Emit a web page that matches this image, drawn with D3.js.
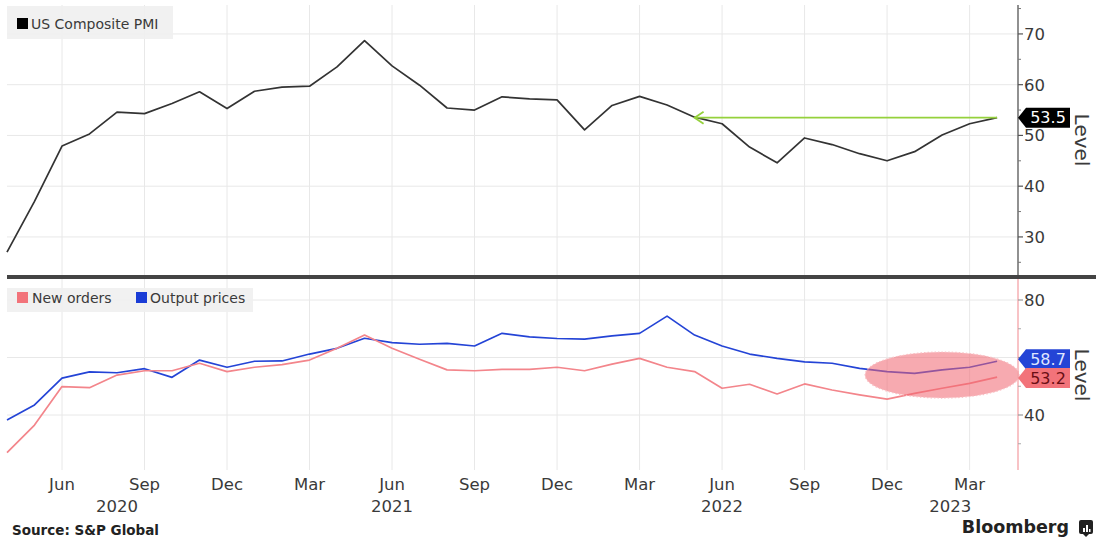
<!DOCTYPE html>
<html>
<head>
<meta charset="utf-8">
<script src="https://cdn.jsdelivr.net/npm/d3@7/dist/d3.min.js"></script>
<style>
  html, body { margin: 0; padding: 0; background: #fff; }
  svg { display: block; font-family: "DejaVu Sans", sans-serif; }
</style>
</head>
<body>
<svg id="chart" width="1096" height="543"></svg>
<script>
// ---------- data ----------
const months = ["2020-04","2020-05","2020-06","2020-07","2020-08","2020-09","2020-10","2020-11","2020-12",
  "2021-01","2021-02","2021-03","2021-04","2021-05","2021-06","2021-07","2021-08","2021-09","2021-10","2021-11","2021-12",
  "2022-01","2022-02","2022-03","2022-04","2022-05","2022-06","2022-07","2022-08","2022-09","2022-10","2022-11","2022-12",
  "2023-01","2023-02","2023-03","2023-04"];
const compositePMI = [27.0,37.0,47.9,50.3,54.6,54.3,56.3,58.6,55.3,58.7,59.5,59.7,63.5,68.7,63.7,59.9,55.4,55.0,57.6,57.2,57.0,
  51.1,55.9,57.7,56.0,53.6,52.3,47.7,44.6,49.5,48.2,46.4,45.0,46.8,50.1,52.3,53.5];
const newOrders = [26.9,36.5,49.9,49.5,53.9,55.4,55.4,58.0,55.1,56.6,57.5,59.1,63.2,67.8,63.2,59.4,55.7,55.4,55.9,55.9,56.6,
  55.4,57.7,59.7,56.6,55.1,49.3,50.7,47.3,50.8,48.7,47.0,45.5,47.5,49.3,51.0,53.2];
const outputPrices = [38.3,43.5,52.8,55.0,54.7,56.1,53.1,59.1,56.6,58.7,58.8,61.2,63.2,66.7,65.2,64.6,64.9,64.0,68.4,67.2,66.6,
  66.4,67.5,68.4,74.4,67.8,64.0,61.2,59.7,58.5,58.0,56.2,55.1,54.5,55.7,56.6,58.7];
const monthTicks = ["2020-06","2020-09","2020-12","2021-03","2021-06","2021-09","2021-12","2022-03","2022-06","2022-09","2022-12","2023-03"];
const monthTickLabels = ["Jun","Sep","Dec","Mar","Jun","Sep","Dec","Mar","Jun","Sep","Dec","Mar"];
const yearLabels = ["2020","2021","2022","2023"];
const yearLabelAt = [4, 14, 26, 34.3];           // month index at which year label is centred
const topTicks = [30, 40, 50, 60, 70];
const topMinor = [25, 35, 45, 55, 65, 75];
const botGrid = [40, 60, 80];
const botTickLabels = [40, 80];
const botMinor = [30, 50, 70];
const arrowFromIndex = 36, arrowToIndex = 25;    // green annotation arrow (Apr 2023 -> May 2022)

// ---------- layout ----------
const svg = d3.select("#chart");
const L = 7, R = 1018;
const topY0 = 5, topY1 = 275, botY0 = 279, botY1 = 470;
const idx = months.map((m, i) => i);
const x = d3.scaleLinear().domain([0, 36.76]).range([L, R]);
const yTop = d3.scaleLinear().domain([22.3, 75.7]).range([276, 5]);
const yBot = d3.scaleLinear().domain([40, 80]).range([415, 300]);
const mIndex = m => months.indexOf(m);

const gridColor = "#e8e8e8";
const textColor = "#3a3a3a";
const red = "#f3858b", blue = "#2444d6";

// background
svg.append("rect").attr("width", 1096).attr("height", 543).attr("fill", "#fff");

// vertical grid
const vg = svg.append("g");
monthTicks.forEach(m => {
  const xx = x(mIndex(m));
  vg.append("line").attr("x1", xx).attr("x2", xx).attr("y1", topY0).attr("y2", topY1)
    .attr("stroke", gridColor).attr("stroke-width", 1);
  vg.append("line").attr("x1", xx).attr("x2", xx).attr("y1", botY0).attr("y2", botY1)
    .attr("stroke", gridColor).attr("stroke-width", 1);
});
// horizontal grid
topTicks.forEach(v => {
  svg.append("line").attr("x1", L).attr("x2", R).attr("y1", yTop(v)).attr("y2", yTop(v))
    .attr("stroke", gridColor).attr("stroke-width", 1);
});
botGrid.forEach(v => {
  svg.append("line").attr("x1", L).attr("x2", R).attr("y1", yBot(v)).attr("y2", yBot(v))
    .attr("stroke", gridColor).attr("stroke-width", 1);
});

// ---------- top panel ----------
const lineTop = d3.line().x((d, i) => x(i)).y(d => yTop(d));
svg.append("path").datum(compositePMI).attr("d", lineTop)
  .attr("fill", "none").attr("stroke", "#333").attr("stroke-width", 1.7).attr("stroke-linejoin", "round");

// green arrow annotation
const gy = yTop(compositePMI[arrowFromIndex]);
const gx1 = x(arrowFromIndex), gx2 = x(arrowToIndex);
const green = "#95d13c";
svg.append("line").attr("x1", gx1).attr("x2", gx2).attr("y1", gy).attr("y2", gy)
  .attr("stroke", green).attr("stroke-width", 1.8);
svg.append("path").attr("d", `M${gx2 + 9},${gy - 6} L${gx2},${gy} L${gx2 + 9},${gy + 6}`)
  .attr("fill", "none").attr("stroke", green).attr("stroke-width", 1.8);

// top axis
svg.append("line").attr("x1", R).attr("x2", R).attr("y1", topY0).attr("y2", topY1)
  .attr("stroke", "#555").attr("stroke-width", 1.3);
topTicks.forEach(v => {
  svg.append("line").attr("x1", R).attr("x2", R + 5).attr("y1", yTop(v)).attr("y2", yTop(v))
    .attr("stroke", "#555").attr("stroke-width", 1.2);
  svg.append("text").attr("x", R + 6).attr("y", yTop(v)).attr("dy", "0.36em")
    .attr("font-size", 16.5).attr("fill", textColor).text(v);
});
topMinor.forEach(v => {
  svg.append("line").attr("x1", R).attr("x2", R + 3).attr("y1", yTop(v)).attr("y2", yTop(v))
    .attr("stroke", "#777").attr("stroke-width", 1);
});

// last value label (black)
function valueTag(cy, fill, txtFill, label) {
  const g = svg.append("g");
  g.append("path").attr("d", `M${R},${cy} L${R + 8},${cy - 10} L${R + 52},${cy - 10} L${R + 52},${cy + 10} L${R + 8},${cy + 10} Z`)
    .attr("fill", fill);
  g.append("text").attr("x", R + 30).attr("y", cy).attr("dy", "0.36em").attr("text-anchor", "middle")
    .attr("font-size", 16).attr("fill", txtFill).text(label);
}
valueTag(yTop(compositePMI[36]), "#000", "#fff", compositePMI[36].toFixed(1));

// "Level" top
svg.append("text").attr("transform", `translate(1075,140) rotate(90)`)
  .attr("text-anchor", "middle").attr("font-size", 20).attr("fill", textColor).text("Level");

// top legend
svg.append("rect").attr("x", L).attr("y", 6).attr("width", 166).attr("height", 33).attr("fill", "#efefef").attr("opacity", 0.9);
svg.append("rect").attr("x", 17).attr("y", 18).attr("width", 11).attr("height", 11).attr("fill", "#000");
svg.append("text").attr("x", 31).attr("y", 23.5).attr("dy", "0.36em").attr("font-size", 14).attr("fill", textColor).text("US Composite PMI");

// separator
svg.append("rect").attr("x", L).attr("y", 275).attr("width", 1096 - L).attr("height", 4).attr("fill", "#444");

// ---------- bottom panel ----------
const lineBot = d3.line().x((d, i) => x(i)).y(d => yBot(d));
svg.append("path").datum(outputPrices).attr("d", lineBot)
  .attr("fill", "none").attr("stroke", blue).attr("stroke-width", 1.7).attr("stroke-linejoin", "round");
svg.append("path").datum(newOrders).attr("d", lineBot)
  .attr("fill", "none").attr("stroke", red).attr("stroke-width", 1.7).attr("stroke-linejoin", "round");

// highlight ellipse
svg.append("ellipse").attr("cx", x(34)).attr("cy", yBot(53.9))
  .attr("rx", x(36.8) - x(34)).attr("ry", yBot(45.9) - yBot(53.9))
  .attr("fill", "rgba(240,100,112,0.55)").attr("stroke", "#f8c0c4").attr("stroke-width", 1.2)
  .attr("stroke-dasharray", "1.5,2");

// bottom axis
svg.append("line").attr("x1", R).attr("x2", R).attr("y1", botY0).attr("y2", botY1)
  .attr("stroke", "#f5a3a8").attr("stroke-width", 1.3);
botGrid.forEach(v => {
  svg.append("line").attr("x1", R).attr("x2", R + 5).attr("y1", yBot(v)).attr("y2", yBot(v))
    .attr("stroke", "#999").attr("stroke-width", 1.2);
});
botMinor.forEach(v => {
  svg.append("line").attr("x1", R).attr("x2", R + 3).attr("y1", yBot(v)).attr("y2", yBot(v))
    .attr("stroke", "#aaa").attr("stroke-width", 1);
});
botTickLabels.forEach(v => {
  svg.append("text").attr("x", R + 6).attr("y", yBot(v)).attr("dy", "0.36em")
    .attr("font-size", 16.5).attr("fill", textColor).text(v);
});
valueTag(yBot(outputPrices[36]) - 2, blue, "#dfe6ff", outputPrices[36].toFixed(1));
valueTag(yBot(newOrders[36]) + 1, "#f2737a", "#6a0e14", newOrders[36].toFixed(1));

svg.append("text").attr("transform", `translate(1075,375) rotate(90)`)
  .attr("text-anchor", "middle").attr("font-size", 20).attr("fill", textColor).text("Level");

// bottom legend
svg.append("rect").attr("x", L).attr("y", 288).attr("width", 246).attr("height", 24).attr("fill", "#efefef").attr("opacity", 0.9);
svg.append("rect").attr("x", 17).attr("y", 292).attr("width", 11).attr("height", 11).attr("fill", "#f2737a");
svg.append("text").attr("x", 32).attr("y", 298).attr("dy", "0.36em").attr("font-size", 14).attr("fill", textColor).text("New orders");
svg.append("rect").attr("x", 136).attr("y", 292).attr("width", 11).attr("height", 11).attr("fill", "#1a3cd6");
svg.append("text").attr("x", 150).attr("y", 298).attr("dy", "0.36em").attr("font-size", 14).attr("fill", textColor).text("Output prices");

// ---------- x axis labels ----------
monthTicks.forEach((m, i) => {
  svg.append("text").attr("x", x(mIndex(m))).attr("y", 490).attr("text-anchor", "middle")
    .attr("font-size", 16.5).attr("fill", textColor).text(monthTickLabels[i]);
});
yearLabels.forEach((yl, i) => {
  svg.append("text").attr("x", x(yearLabelAt[i])).attr("y", 512).attr("text-anchor", "middle")
    .attr("font-size", 16.5).attr("fill", textColor).text(yl);
});

// ---------- footer ----------
svg.append("text").attr("x", 12).attr("y", 535).attr("font-size", 13.5).attr("font-weight", "bold")
  .attr("fill", "#222").text("Source: S&P Global");
svg.append("text").attr("x", 1069).attr("y", 533).attr("text-anchor", "end").attr("font-size", 17.5)
  .attr("font-weight", "bold").attr("fill", "#222").text("Bloomberg");
const ic = svg.append("g").attr("transform", "translate(1079,520)");
ic.append("rect").attr("width", 14).attr("height", 14).attr("rx", 2).attr("fill", "#222");
ic.append("path").attr("d", "M4,14 L7,17 L10,14 Z").attr("fill", "#222");
[[4, 8, 2, 4], [7, 5, 2, 7], [10, 9, 1.5, 3]].forEach(b =>
  ic.append("rect").attr("x", b[0]).attr("y", b[1]).attr("width", b[2]).attr("height", b[3]).attr("fill", "#fff"));
</script>
</body>
</html>
